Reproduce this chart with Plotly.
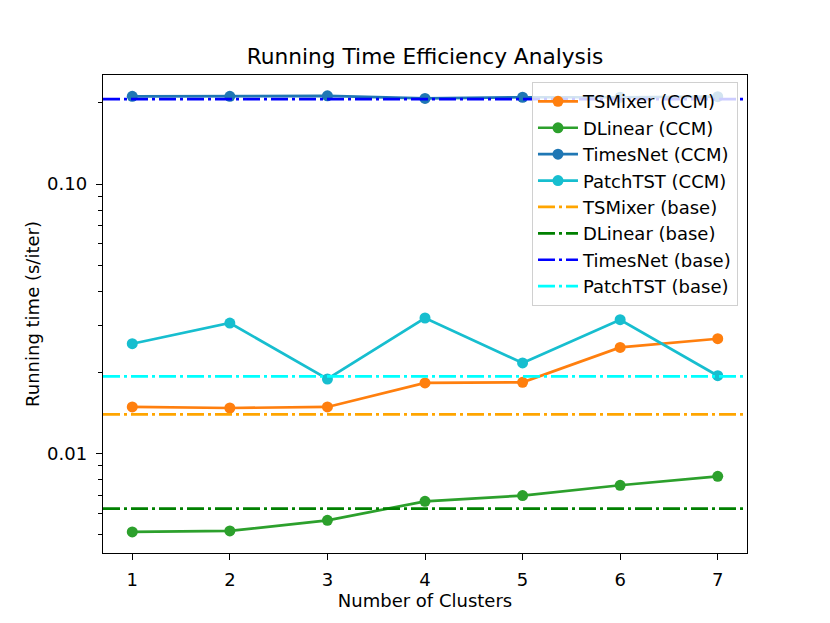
import plotly.graph_objects as go

# number of clusters on the x axis
clusters = [1, 2, 3, 4, 5, 6, 7]

# running time (s/iter) with CCM
tsmixer_ccm = [0.01490, 0.01477, 0.01490, 0.01829, 0.01839, 0.02478, 0.02669]
dlinear_ccm = [0.005125, 0.005169, 0.005658, 0.006652, 0.006988, 0.007632, 0.008236]
timesnet_ccm = [0.2117, 0.2117, 0.2125, 0.2079, 0.2100, 0.2100, 0.2110]
patchtst_ccm = [0.02558, 0.03052, 0.01892, 0.03186, 0.02170, 0.03140, 0.01946]

# base models (horizontal reference lines)
tsmixer_base = 0.01398
dlinear_base = 0.006253
timesnet_base = 0.2066
patchtst_base = 0.01935

x_range = [0.7, 7.3]

font = "DejaVu Sans"
dashdot = "17px,4px,3px,4px"

fig = go.Figure()

ccm = [
    ("TSMixer (CCM)", tsmixer_ccm, "#ff7f0e"),
    ("DLinear (CCM)", dlinear_ccm, "#2ca02c"),
    ("TimesNet (CCM)", timesnet_ccm, "#1f77b4"),
    ("PatchTST (CCM)", patchtst_ccm, "#17becf"),
]
for name, vals, color in ccm:
    fig.add_trace(go.Scatter(
        x=clusters, y=vals, name=name, mode="lines+markers",
        line=dict(color=color, width=2.7),
        marker=dict(color=color, size=11),
    ))

base = [
    ("TSMixer (base)", tsmixer_base, "#FFA500"),
    ("DLinear (base)", dlinear_base, "#008000"),
    ("TimesNet (base)", timesnet_base, "#0000FF"),
    ("PatchTST (base)", patchtst_base, "#00FFFF"),
]
for name, val, color in base:
    fig.add_trace(go.Scatter(
        x=x_range, y=[val, val], name=name, mode="lines",
        line=dict(color=color, width=2.7, dash=dashdot),
    ))

minor_vals = [m * 10 ** e for e in (-3, -2, -1) for m in range(2, 10)]

# page body has an 8px margin, so the figure is shifted by 8px
fig.update_layout(
    width=830, height=623,
    margin=dict(l=95, r=91, t=67, b=78),
    paper_bgcolor="white", plot_bgcolor="white",
    font=dict(family=font, size=18, color="black"),
    title=dict(text="Running Time Efficiency Analysis", x=0.5, xref="paper",
               y=(623 - 48) / 623, yref="container", yanchor="middle",
               font=dict(size=21.7)),
    legend=dict(x=0.986, y=0.985, xanchor="right", yanchor="top",
                bgcolor="rgba(255,255,255,0.8)", bordercolor="#d0d0d0",
                borderwidth=1, font=dict(size=18), tracegroupgap=0,
                itemwidth=40),
    xaxis=dict(
        range=x_range, tickvals=clusters, showgrid=False, zeroline=False,
        showline=True, linecolor="black", linewidth=1.4, mirror=True,
        ticks="outside", ticklen=6, tickwidth=1.4, tickcolor="black",
        ticklabelstandoff=4,
        title=dict(text="Number of Clusters", standoff=4,
                   font=dict(size=18)),
    ),
    yaxis=dict(
        type="log", range=[-2.3686, -0.5952],
        tickvals=[0.01, 0.1], ticktext=["0.01", "0.10"],
        showgrid=False, zeroline=False,
        showline=True, linecolor="black", linewidth=1.4, mirror=True,
        ticks="outside", ticklen=6, tickwidth=1.4, tickcolor="black",
        ticklabelstandoff=5,
        minor=dict(tickvals=minor_vals, ticks="outside", ticklen=4,
                   tickwidth=1.1, tickcolor="black", showgrid=False),
        title=dict(text="Running time (s/iter)", standoff=2,
                   font=dict(size=18)),
    ),
)

fig.write_html("out.html")
